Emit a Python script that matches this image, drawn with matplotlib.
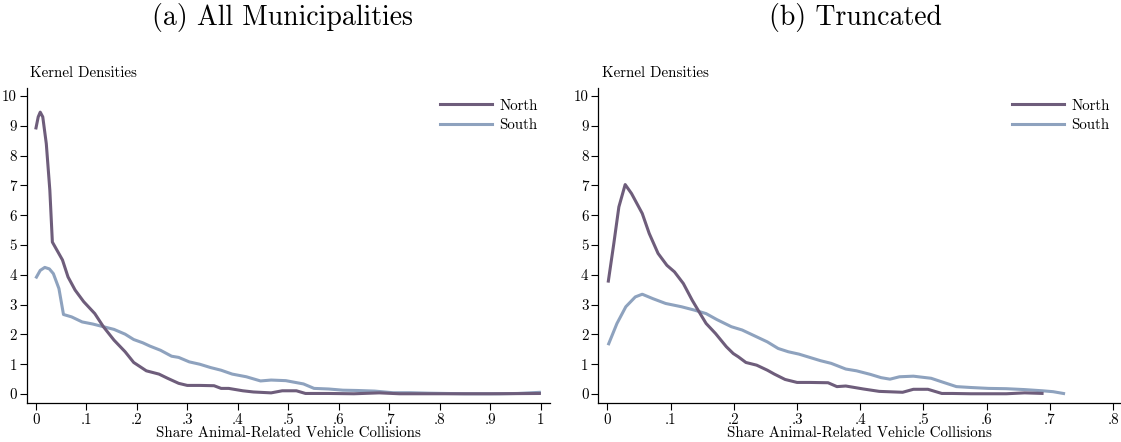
import matplotlib
matplotlib.use("Agg")
import matplotlib.pyplot as plt
from matplotlib.lines import Line2D

plt.rcParams['font.family'] = ['cmr10', 'DejaVu Serif']
plt.rcParams['mathtext.fontset'] = 'cm'
plt.rcParams['axes.unicode_minus'] = False

# ---- data: panel (a) All municipalities ----
a_north_x = [0.0, 0.005, 0.009, 0.014, 0.021, 0.028, 0.033, 0.042, 0.053, 0.064, 0.078, 0.095, 0.117, 0.134,
             0.155, 0.177, 0.194, 0.219, 0.244, 0.261, 0.283, 0.30, 0.325, 0.353, 0.367, 0.382,
             0.41, 0.431, 0.466, 0.488, 0.516, 0.534, 0.58, 0.63, 0.68, 0.72, 0.8, 0.9, 1.0]
a_north_y = [8.88, 9.3, 9.46, 9.3, 8.4, 6.84, 5.1, 4.83, 4.5, 3.93, 3.49, 3.1, 2.7, 2.26,
             1.81, 1.42, 1.06, 0.78, 0.67, 0.53, 0.36, 0.29, 0.29, 0.28, 0.19, 0.19,
             0.11, 0.07, 0.04, 0.11, 0.11, 0.02, 0.02, 0.01, 0.04, 0.01, 0.01, 0.01, 0.02]
a_south_x = [0.0, 0.009, 0.018, 0.027, 0.035, 0.046, 0.055, 0.071, 0.092, 0.113, 0.134, 0.155, 0.177, 0.194,
             0.212, 0.226, 0.247, 0.269, 0.283, 0.304, 0.325, 0.346, 0.367, 0.389, 0.417, 0.445,
             0.466, 0.495, 0.53, 0.551, 0.58, 0.608, 0.636, 0.671, 0.707, 0.742, 0.777, 0.848,
             0.919, 0.954, 1.0]
a_south_y = [3.88, 4.15, 4.25, 4.2, 4.04, 3.54, 2.67, 2.59, 2.42, 2.35, 2.26, 2.17, 2.01, 1.83,
             1.72, 1.61, 1.47, 1.27, 1.23, 1.08, 1.0, 0.89, 0.8, 0.67, 0.58, 0.44,
             0.47, 0.45, 0.34, 0.19, 0.17, 0.13, 0.12, 0.1, 0.045, 0.045, 0.03, 0.01,
             0.01, 0.02, 0.06]

# ---- data: panel (b) Truncated ----
b_north_x = [0.001, 0.01, 0.018, 0.028, 0.038, 0.055, 0.066, 0.08, 0.094, 0.106, 0.12, 0.134,
             0.148, 0.156, 0.171, 0.188, 0.199, 0.207, 0.219, 0.236, 0.253, 0.264, 0.281, 0.30,
             0.32, 0.349, 0.363, 0.377, 0.405, 0.43, 0.467, 0.484, 0.507, 0.529, 0.546, 0.575,
             0.631, 0.66, 0.69]
b_north_y = [3.74, 5.05, 6.28, 7.03, 6.73, 6.06, 5.39, 4.72, 4.32, 4.1, 3.71, 3.15,
             2.65, 2.37, 2.03, 1.59, 1.36, 1.25, 1.06, 0.97, 0.8, 0.67, 0.49, 0.39,
             0.39, 0.38, 0.25, 0.27, 0.17, 0.09, 0.06, 0.16, 0.16, 0.02, 0.02, 0.01,
             0.01, 0.04, 0.02]
b_south_x = [0.001, 0.015, 0.029, 0.044, 0.055, 0.072, 0.092, 0.117, 0.137, 0.156, 0.173, 0.196,
             0.213, 0.236, 0.253, 0.27, 0.286, 0.303, 0.32, 0.337, 0.354, 0.377, 0.394, 0.416,
             0.433, 0.447, 0.462, 0.484, 0.512, 0.529, 0.552, 0.575, 0.603, 0.631, 0.66, 0.688,
             0.705, 0.724]
b_south_y = [1.64, 2.37, 2.93, 3.26, 3.35, 3.2, 3.04, 2.93, 2.82, 2.7, 2.5, 2.26,
             2.15, 1.92, 1.75, 1.53, 1.42, 1.34, 1.23, 1.12, 1.03, 0.84, 0.78, 0.66,
             0.55, 0.5, 0.58, 0.6, 0.53, 0.41, 0.25, 0.22, 0.19, 0.18, 0.15, 0.11,
             0.08, 0.01]

y_ticks = list(range(0, 11))
a_xticks = [0, 0.1, 0.2, 0.3, 0.4, 0.5, 0.6, 0.7, 0.8, 0.9, 1.0]
a_xlabels = ['0', '.1', '.2', '.3', '.4', '.5', '.6', '.7', '.8', '.9', '1']
b_xticks = [0, 0.1, 0.2, 0.3, 0.4, 0.5, 0.6, 0.7, 0.8]
b_xlabels = ['0', '.1', '.2', '.3', '.4', '.5', '.6', '.7', '.8']
series_names = ['North', 'South']
titles = ['(a) All Municipalities', '(b) Truncated']

c_north = '#6e5d7b'
c_south = '#8ea2be'
lw = 2.2
fs = 10.8

W, H = 1121, 442
fig = plt.figure(figsize=(W / 100, H / 100), dpi=100)

def px_axes(left, top, right, bottom):
    return fig.add_axes([left / W, 1 - bottom / H, (right - left) / W, (bottom - top) / H])

ax1 = px_axes(26.8, 88, 550, 403.3)
ax2 = px_axes(598.2, 88, 1121, 403.3)

panels = [
    (ax1, a_north_x, a_north_y, a_south_x, a_south_y, a_xticks, a_xlabels, (-0.0176, 1.018), 440),
    (ax2, b_north_x, b_north_y, b_south_x, b_south_y, b_xticks, b_xlabels, (-0.0147, 0.8125), 1011.8),
]

for ax, nx, ny, sx, sy, xt, xl, xlim, legx in panels:
    ax.plot(sx, sy, color=c_south, lw=lw, solid_capstyle='butt', solid_joinstyle='round', zorder=2)
    ax.plot(nx, ny, color=c_north, lw=lw, solid_capstyle='butt', solid_joinstyle='round', zorder=3)
    ax.set_xlim(*xlim)
    ax.set_ylim(-0.31, 10.27)
    ax.set_yticks(y_ticks)
    ax.set_yticklabels([str(v) for v in y_ticks])
    ax.set_xticks(xt)
    ax.set_xticklabels(xl)
    for s in ['top', 'right']:
        ax.spines[s].set_visible(False)
    for s in ['left', 'bottom']:
        ax.spines[s].set_linewidth(0.9)
    ax.tick_params(axis='both', direction='out', length=5, width=0.8, labelsize=fs, pad=2)
    ax.set_xlabel('Share Animal-Related Vehicle Collisions', fontsize=fs, labelpad=0)
    handles = [Line2D([], [], color=c_north, lw=lw), Line2D([], [], color=c_south, lw=lw)]
    ax.legend(handles, series_names, loc='upper left', frameon=False, fontsize=fs,
              handlelength=3.45, handletextpad=0.5, labelspacing=0.4,
              borderaxespad=0, borderpad=0,
              bbox_to_anchor=(legx / W, 1 - 99 / H), bbox_transform=fig.transFigure)
    ax.set_facecolor('white')

fig.text(30 / W, 1 - 77 / H, 'Kernel Densities', fontsize=fs, ha='left', va='baseline')
fig.text(601.5 / W, 1 - 77 / H, 'Kernel Densities', fontsize=fs, ha='left', va='baseline')

fig.text(282 / W, 1 - 25 / H, titles[0], fontsize=20, ha='center', va='baseline')
fig.text(855.5 / W, 1 - 25 / H, titles[1], fontsize=20, ha='center', va='baseline')

fig.savefig('out.png', dpi=100, facecolor='white')
